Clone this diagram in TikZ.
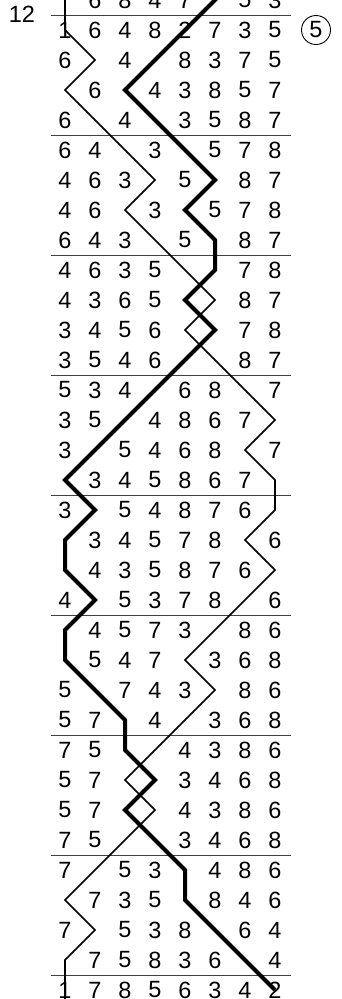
\documentclass[tikz,border=0pt]{standalone}
\usepackage{fontspec}
\setmainfont{Liberation Sans}
\begin{document}
\begin{tikzpicture}[x=1pt,y=-1pt,
  digit/.style={inner sep=0pt,font=\fontsize{23.5}{24}\selectfont},
  rule/.style={draw=black!75,line width=1pt},
  thinpath/.style={draw=black,line width=1.6pt,line join=miter},
  thickpath/.style={draw=black,line width=4pt,line join=miter},
  badge/.style={circle,draw=black,line width=0.9pt,minimum size=29pt,inner sep=0pt,font=\fontsize{23.5}{24}\selectfont}]
\path[use as bounding box] (0,0) rectangle (342,999);
\clip (0,0) rectangle (342,999);
% grid of positions
\foreach \r in {-1,...,34}{
  \foreach \c in {1,...,8}{
    \coordinate (g-\r-\c) at ({35+30*\c},{30*\r});
  }
}
% horizontal rules
\foreach \k in {0,...,8}{
  \coordinate (rl-\k) at (51,{15+120*\k});
  \coordinate (rr-\k) at (291,{15+120*\k});
  \draw[rule] (rl-\k) -- (rr-\k);
}
% paths of element 1 (thin) and element 2 (thick)
\draw[thinpath] (g--1-1)
  \foreach \c [count=\r from 0] in {1,1,2,1,2,3,4,3,4,5,6,5,6,7,8,7,8,8,7,8,7,6,5,6,5,4,3,4,3,2,1,2,1,1,1}{ -- (g-\r-\c) };
\draw[thickpath] (g--1-7)
  \foreach \c [count=\r from 0] in {6,5,4,3,4,5,6,5,6,6,5,6,5,4,3,2,1,2,1,1,2,1,1,2,3,3,4,3,4,5,5,6,7,8}{ -- (g-\r-\c) };
% digits
\foreach \r/\row in {
 0/{0,6,8,4,7,0,5,3},
 1/{1,6,4,8,2,7,3,5},
 2/{6,0,4,0,8,3,7,5},
 3/{0,6,0,4,3,8,5,7},
 4/{6,0,4,0,3,5,8,7},
 5/{6,4,0,3,0,5,7,8},
 6/{4,6,3,0,5,0,8,7},
 7/{4,6,0,3,0,5,7,8},
 8/{6,4,3,0,5,0,8,7},
 9/{4,6,3,5,0,0,7,8},
 10/{4,3,6,5,0,0,8,7},
 11/{3,4,5,6,0,0,7,8},
 12/{3,5,4,6,0,0,8,7},
 13/{5,3,4,0,6,8,0,7},
 14/{3,5,0,4,8,6,7,0},
 15/{3,0,5,4,6,8,0,7},
 16/{0,3,4,5,8,6,7,0},
 17/{3,0,5,4,8,7,6,0},
 18/{0,3,4,5,7,8,0,6},
 19/{0,4,3,5,8,7,6,0},
 20/{4,0,5,3,7,8,0,6},
 21/{0,4,5,7,3,0,8,6},
 22/{0,5,4,7,0,3,6,8},
 23/{5,0,7,4,3,0,8,6},
 24/{5,7,0,4,0,3,6,8},
 25/{7,5,0,0,4,3,8,6},
 26/{5,7,0,0,3,4,6,8},
 27/{5,7,0,0,4,3,8,6},
 28/{7,5,0,0,3,4,6,8},
 29/{7,0,5,3,0,4,8,6},
 30/{0,7,3,5,0,8,4,6},
 31/{7,0,5,3,8,0,6,4},
 32/{0,7,5,8,3,6,0,4},
 33/{1,7,8,5,6,3,4,2}}{
  \foreach \d [count=\c] in \row {
    \ifnum\d=0\relax\else
      \node[digit] (d-\r-\c) at (g-\r-\c) {\d};
    \fi
  }
}
% labels
\node[digit] (lbl12) at (22,14) {12};
\node[badge] (five) at (316,30) {5};
\end{tikzpicture}
\end{document}
